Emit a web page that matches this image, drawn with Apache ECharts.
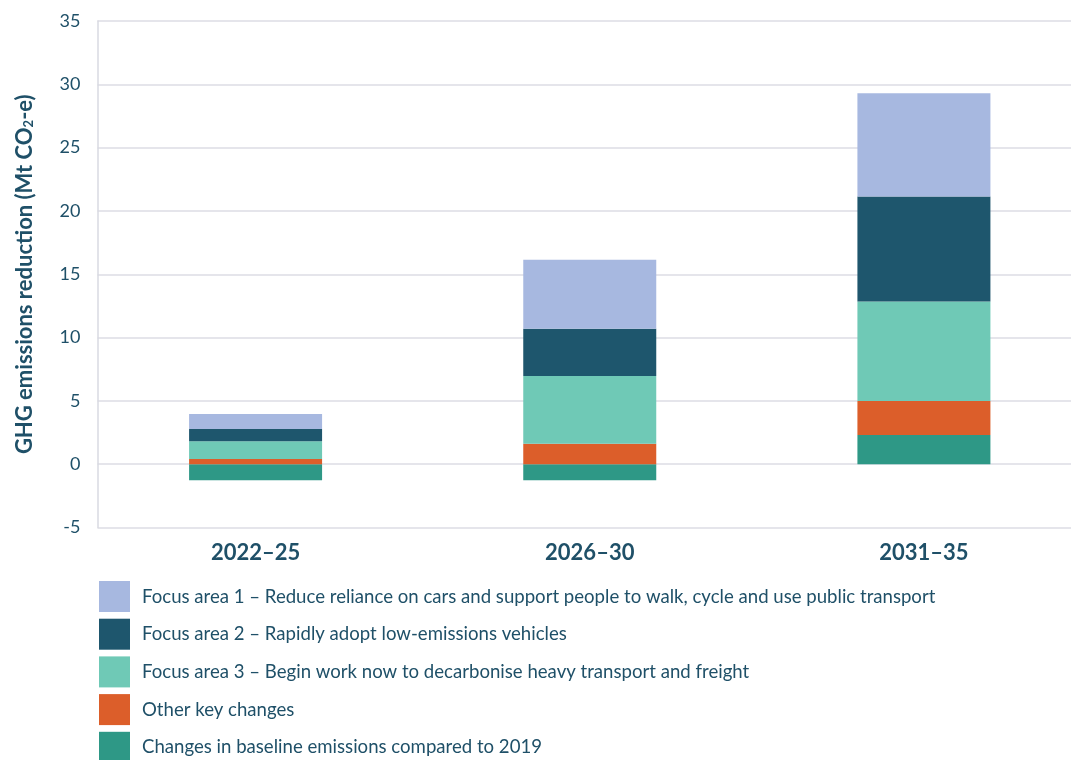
<!DOCTYPE html>
<html>
<head>
<meta charset="utf-8">
<script src="https://cdn.jsdelivr.net/npm/echarts@6/dist/echarts.min.js"></script>
<style>html,body{margin:0;padding:0;background:#fff;overflow:hidden}#c{width:1091px;height:760px}</style>
</head>
<body>
<div id="c"></div>
<script>
const categories = ['2022–25', '2026–30', '2031–35'];
const focus1 = [1.19, 5.46, 8.16];
const focus2 = [0.95, 3.72, 8.29];
const focus3 = [1.42, 5.36, 7.86];
const otherChanges = [0.40, 1.61, 2.69];
const baseline = [-1.27, -1.27, 2.30];
const yTicks = { min: -5, max: 35, interval: 5 };

const names = {
  f1: 'Focus area 1 – Reduce reliance on cars and support people to walk, cycle and use public transport',
  f2: 'Focus area 2 – Rapidly adopt low-emissions vehicles',
  f3: 'Focus area 3 – Begin work now to decarbonise heavy transport and freight',
  oth: 'Other key changes',
  base: 'Changes in baseline emissions compared to 2019'
};
const colors = { f1: '#a7b8e0', f2: '#1e566d', f3: '#6fc9b6', oth: '#dc5e2a', base: '#2e9886' };
const textColor = '#1f5068';
const font = 'Lato';

function bar(key, data) {
  return {
    name: names[key], type: 'bar', stack: 'total', xAxisIndex: 1, yAxisIndex: 1,
    data: data, barWidth: 133, itemStyle: { color: colors[key] }
  };
}

const chart = echarts.init(document.getElementById('c'), null, { renderer: 'canvas' });
chart.setOption({
  animation: false,
  textStyle: { fontFamily: font },
  grid: [
    { left: 97.5, right: 20, top: 21, bottom: 232.5 },
    { left: 88.5, right: 0, top: 21, bottom: 232.5 }
  ],
  xAxis: [
    { gridIndex: 0, type: 'category', data: categories, show: false },
    { gridIndex: 1, type: 'category', data: categories,
      axisLine: { show: false }, axisTick: { show: false },
      axisLabel: { color: textColor, fontFamily: font, fontWeight: 'bold', fontSize: 22, margin: 14 } }
  ],
  yAxis: [
    { gridIndex: 0, type: 'value', min: yTicks.min, max: yTicks.max, interval: yTicks.interval,
      axisLine: { show: true, lineStyle: { color: '#d9dae2', width: 1.5 } },
      axisTick: { show: false },
      splitLine: { lineStyle: { color: '#dcdde4', width: 1.5 } },
      axisLabel: { color: textColor, fontFamily: font, fontSize: 18, margin: 17 },
      name: '{a|GHG emissions reduction (Mt CO}{s|2}{a|-e)}',
      nameLocation: 'middle', nameGap: 62, nameRotate: 90,
      nameTextStyle: {
        rich: {
          a: { color: textColor, fontFamily: font, fontWeight: 'bold', fontSize: 22 },
          s: { color: textColor, fontFamily: font, fontWeight: 'bold', fontSize: 13, padding: [9, 0, 0, 0] }
        }
      }
    },
    { gridIndex: 1, type: 'value', min: yTicks.min, max: yTicks.max, interval: yTicks.interval, show: false,
      splitLine: { show: false } }
  ],
  legend: {
    orient: 'vertical', left: 94, top: 576, height: 184, icon: 'rect', itemWidth: 31, itemHeight: 31, itemGap: 6.7,
    data: [names.f1, names.f2, names.f3, names.oth, names.base],
    textStyle: { color: textColor, fontFamily: font, fontSize: 18.6, padding: [0, 0, 0, 7] }
  },
  series: [
    bar('base', baseline),
    bar('oth', otherChanges),
    bar('f3', focus3),
    bar('f2', focus2),
    bar('f1', focus1)
  ]
});
</script>
</body>
</html>
